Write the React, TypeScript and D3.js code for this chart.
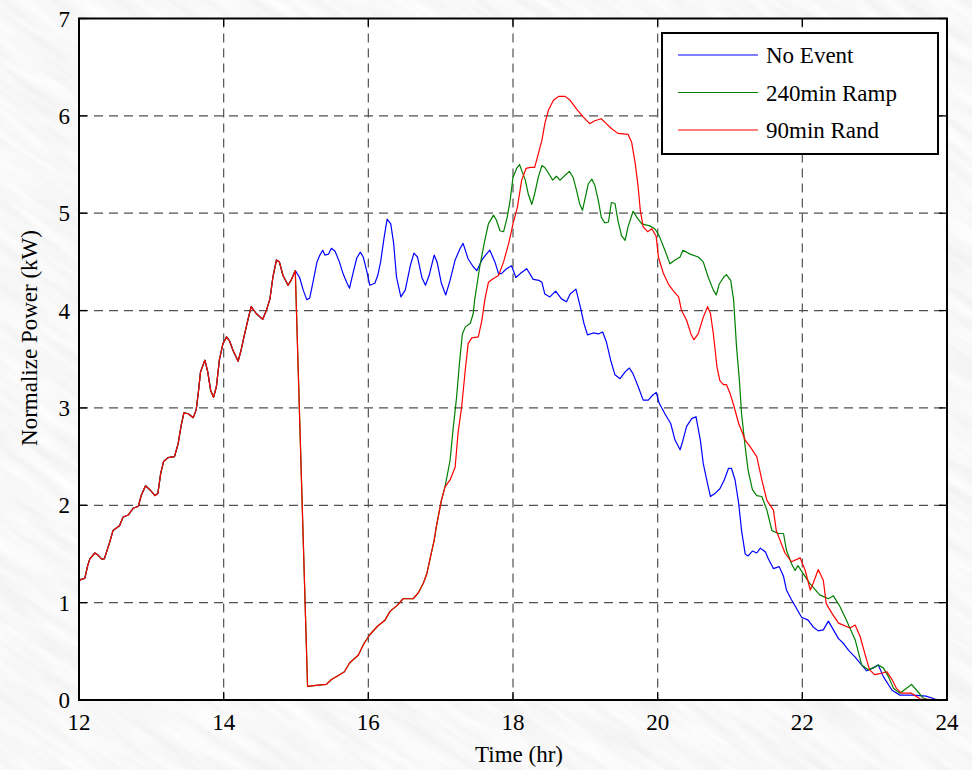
import { useEffect, useMemo, useRef } from "react";
import * as d3 from "d3";

const WIDTH = 972;
const HEIGHT = 770;
const PLOT = { left: 79, right: 947, top: 18.5, bottom: 700 };

// all three cases share the same load before the event starts (~15 hr)
const common: [number, number][] = [
  [12.0, 1.22], [12.03, 1.24], [12.08, 1.25], [12.12, 1.38], [12.15, 1.45], [12.22, 1.51], [12.26, 1.49],
  [12.31, 1.45], [12.35, 1.45], [12.42, 1.61], [12.47, 1.74], [12.56, 1.79], [12.61, 1.88], [12.68, 1.9],
  [12.75, 1.97], [12.82, 1.99], [12.86, 2.1], [12.92, 2.2], [12.98, 2.16], [13.05, 2.1], [13.09, 2.12],
  [13.13, 2.33], [13.17, 2.45], [13.23, 2.49], [13.32, 2.5], [13.37, 2.63], [13.41, 2.81], [13.45, 2.95],
  [13.51, 2.94], [13.58, 2.9], [13.62, 2.98], [13.65, 3.16], [13.68, 3.37], [13.74, 3.49], [13.78, 3.37],
  [13.82, 3.18], [13.86, 3.11], [13.9, 3.22], [13.94, 3.49], [13.99, 3.66], [14.04, 3.73], [14.08, 3.69],
  [14.13, 3.59], [14.2, 3.48], [14.24, 3.59], [14.29, 3.76], [14.34, 3.92], [14.38, 4.04], [14.45, 3.97],
  [14.54, 3.91], [14.59, 4.0], [14.64, 4.12], [14.68, 4.34], [14.73, 4.52], [14.77, 4.5], [14.82, 4.36],
  [14.89, 4.26], [14.93, 4.31], [14.99, 4.41],
];

// drop + recovery, identical for the ramp and random cases
const eventShared: [number, number][] = [
  [15.16, 0.14], [15.28, 0.15], [15.42, 0.16], [15.49, 0.21], [15.58, 0.25], [15.67, 0.29], [15.74, 0.38],
  [15.86, 0.46], [15.94, 0.58], [16.02, 0.67], [16.13, 0.76], [16.23, 0.82], [16.3, 0.91], [16.41, 0.98],
  [16.48, 1.04], [16.62, 1.04], [16.69, 1.1], [16.76, 1.2], [16.81, 1.3], [16.85, 1.44], [16.91, 1.64],
  [16.94, 1.78], [17.01, 2.05], [17.06, 2.19],
];

const noEventTail: [number, number][] = [
  [15.05, 4.34], [15.1, 4.21], [15.15, 4.11], [15.19, 4.13], [15.24, 4.31], [15.29, 4.5], [15.33, 4.57],
  [15.37, 4.62], [15.4, 4.57], [15.45, 4.58], [15.49, 4.64], [15.54, 4.61], [15.6, 4.5], [15.65, 4.38],
  [15.7, 4.29], [15.74, 4.23], [15.79, 4.39], [15.84, 4.54], [15.89, 4.6], [15.93, 4.55], [15.98, 4.4],
  [16.02, 4.26], [16.09, 4.28], [16.13, 4.36], [16.17, 4.5], [16.22, 4.76], [16.26, 4.94], [16.31, 4.89],
  [16.35, 4.69], [16.39, 4.34], [16.45, 4.14], [16.51, 4.21], [16.58, 4.46], [16.63, 4.59], [16.68, 4.55],
  [16.74, 4.34], [16.79, 4.26], [16.84, 4.36], [16.91, 4.57], [16.95, 4.5], [17.01, 4.28], [17.07, 4.16],
  [17.13, 4.31], [17.2, 4.52], [17.27, 4.64], [17.31, 4.69], [17.38, 4.53], [17.45, 4.45], [17.5, 4.41],
  [17.57, 4.52], [17.62, 4.57], [17.68, 4.62], [17.75, 4.5], [17.8, 4.38], [17.84, 4.38], [17.91, 4.43],
  [17.98, 4.46], [18.04, 4.34], [18.1, 4.38], [18.19, 4.43], [18.28, 4.32], [18.36, 4.31], [18.4, 4.29],
  [18.44, 4.17], [18.51, 4.14], [18.59, 4.2], [18.67, 4.12], [18.74, 4.09], [18.79, 4.17], [18.87, 4.22],
  [18.93, 4.04], [18.98, 3.87], [19.03, 3.75], [19.11, 3.77], [19.18, 3.76], [19.24, 3.78], [19.29, 3.68],
  [19.35, 3.49], [19.41, 3.34], [19.48, 3.3], [19.55, 3.37], [19.61, 3.41], [19.66, 3.35], [19.73, 3.22],
  [19.8, 3.08], [19.87, 3.08], [19.93, 3.13], [19.98, 3.16], [20.02, 3.05], [20.1, 2.94], [20.18, 2.84],
  [20.24, 2.67], [20.31, 2.57], [20.35, 2.67], [20.4, 2.81], [20.47, 2.89], [20.53, 2.91], [20.59, 2.67],
  [20.63, 2.43], [20.69, 2.22], [20.73, 2.09], [20.79, 2.12], [20.86, 2.17], [20.92, 2.26], [20.98, 2.38],
  [21.02, 2.38], [21.07, 2.26], [21.12, 2.02], [21.16, 1.74], [21.21, 1.5], [21.25, 1.48], [21.31, 1.53],
  [21.37, 1.51], [21.42, 1.56], [21.49, 1.52], [21.53, 1.45], [21.6, 1.35], [21.68, 1.37], [21.74, 1.27],
  [21.78, 1.13], [21.85, 1.03], [21.92, 0.94], [21.99, 0.85], [22.08, 0.82], [22.15, 0.75], [22.22, 0.71],
  [22.29, 0.72], [22.36, 0.81], [22.43, 0.72], [22.5, 0.63], [22.57, 0.58], [22.64, 0.51], [22.73, 0.44],
  [22.82, 0.36], [22.89, 0.3], [22.98, 0.33], [23.05, 0.36], [23.12, 0.24], [23.24, 0.1], [23.35, 0.05],
  [23.53, 0.05], [23.71, 0.04], [23.83, 0.01], [23.9, 0.0], [24.0, 0.0],
];

const rampTail: [number, number][] = [
  [17.13, 2.46], [17.17, 2.77], [17.22, 3.11], [17.26, 3.46], [17.3, 3.76], [17.34, 3.83], [17.41, 3.87],
  [17.45, 3.97], [17.47, 4.11], [17.54, 4.45], [17.61, 4.72], [17.66, 4.89], [17.73, 4.98], [17.77, 4.93],
  [17.82, 4.82], [17.87, 4.81], [17.92, 4.96], [17.96, 5.13], [18.0, 5.37], [18.05, 5.46], [18.09, 5.5],
  [18.12, 5.44], [18.17, 5.34], [18.21, 5.2], [18.26, 5.09], [18.3, 5.2], [18.35, 5.37], [18.4, 5.49],
  [18.44, 5.47], [18.49, 5.41], [18.55, 5.34], [18.6, 5.38], [18.65, 5.34], [18.72, 5.39], [18.78, 5.43],
  [18.83, 5.37], [18.88, 5.23], [18.92, 5.1], [18.96, 5.03], [18.99, 5.13], [19.04, 5.3], [19.09, 5.35],
  [19.13, 5.29], [19.18, 5.13], [19.22, 4.96], [19.27, 4.9], [19.32, 4.91], [19.36, 5.11], [19.41, 5.1],
  [19.45, 4.93], [19.5, 4.77], [19.55, 4.72], [19.59, 4.86], [19.66, 5.02], [19.71, 4.96], [19.78, 4.89],
  [19.89, 4.87], [19.96, 4.84], [20.02, 4.77], [20.1, 4.62], [20.17, 4.48], [20.24, 4.52], [20.31, 4.55],
  [20.35, 4.62], [20.45, 4.58], [20.56, 4.55], [20.63, 4.5], [20.7, 4.34], [20.77, 4.21], [20.81, 4.16],
  [20.85, 4.27], [20.91, 4.34], [20.95, 4.37], [21.01, 4.31], [21.05, 4.11], [21.09, 3.63], [21.13, 3.28],
  [21.16, 2.94], [21.21, 2.6], [21.25, 2.36], [21.31, 2.16], [21.37, 2.1], [21.44, 2.09], [21.51, 1.95],
  [21.58, 1.74], [21.67, 1.71], [21.74, 1.71], [21.78, 1.54], [21.85, 1.4], [21.9, 1.33], [21.94, 1.38],
  [22.01, 1.3], [22.1, 1.2], [22.24, 1.08], [22.36, 1.04], [22.43, 1.07], [22.52, 0.96], [22.61, 0.82],
  [22.73, 0.62], [22.82, 0.36], [22.91, 0.31], [22.98, 0.33], [23.05, 0.36], [23.12, 0.33], [23.19, 0.24],
  [23.26, 0.12], [23.35, 0.07], [23.44, 0.12], [23.51, 0.16], [23.58, 0.1], [23.67, 0.02], [23.75, 0.0],
  [24.0, 0.0],
];

const randTail: [number, number][] = [
  [17.13, 2.26], [17.2, 2.39], [17.24, 2.74], [17.29, 3.01], [17.34, 3.39], [17.38, 3.66], [17.43, 3.72],
  [17.52, 3.73], [17.57, 3.9], [17.61, 4.11], [17.66, 4.29], [17.73, 4.33], [17.8, 4.36], [17.87, 4.5],
  [17.94, 4.69], [18.0, 4.89], [18.06, 5.06], [18.12, 5.34], [18.18, 5.46], [18.24, 5.47], [18.3, 5.47],
  [18.35, 5.61], [18.4, 5.75], [18.44, 5.92], [18.49, 6.06], [18.56, 6.16], [18.63, 6.2], [18.72, 6.2],
  [18.79, 6.16], [18.88, 6.07], [18.97, 5.99], [19.06, 5.92], [19.13, 5.95], [19.22, 5.97], [19.29, 5.92],
  [19.36, 5.87], [19.45, 5.82], [19.59, 5.81], [19.64, 5.73], [19.69, 5.51], [19.73, 5.27], [19.76, 5.03],
  [19.8, 4.86], [19.86, 4.81], [19.92, 4.84], [19.98, 4.76], [20.01, 4.55], [20.08, 4.38], [20.15, 4.27],
  [20.22, 4.2], [20.29, 4.14], [20.33, 4.0], [20.4, 3.9], [20.46, 3.76], [20.5, 3.7], [20.56, 3.76],
  [20.63, 3.93], [20.69, 4.04], [20.73, 3.97], [20.77, 3.76], [20.82, 3.42], [20.86, 3.28], [20.91, 3.24],
  [20.95, 3.24], [21.0, 3.15], [21.05, 3.03], [21.12, 2.84], [21.21, 2.67], [21.28, 2.6], [21.37, 2.5],
  [21.44, 2.26], [21.51, 2.05], [21.6, 1.95], [21.64, 1.74], [21.76, 1.51], [21.85, 1.42], [21.97, 1.46],
  [22.04, 1.33], [22.11, 1.13], [22.15, 1.2], [22.22, 1.34], [22.29, 1.23], [22.33, 0.99], [22.41, 0.89],
  [22.5, 0.79], [22.66, 0.74], [22.73, 0.77], [22.8, 0.65], [22.87, 0.46], [22.93, 0.31], [23.0, 0.26],
  [23.07, 0.27], [23.17, 0.29], [23.24, 0.21], [23.3, 0.12], [23.37, 0.07], [23.51, 0.07], [23.63, 0.01],
  [24.0, 0.0],
];

const seriesNames = ["No Event", "240min Ramp", "90min Rand"];
const seriesColors = ["#0000ff", "#008000", "#ff0000"];

const xTicks = [12, 14, 16, 18, 20, 22, 24];
const yTicks = [0, 1, 2, 3, 4, 5, 6, 7];

const SERIF = '"Liberation Serif", Tinos, "Times New Roman", Times, serif';
const textStyle = { fontFamily: SERIF };
const FS = 23;

export default function App() {
  const svgRef = useRef<SVGSVGElement>(null);
  const x = d3.scaleLinear().domain([12, 24]).range([PLOT.left, PLOT.right]);
  const y = d3.scaleLinear().domain([0, 7]).range([PLOT.bottom, PLOT.top]);

  // force the serif face on every label, whatever the page css says
  useEffect(() => {
    if (!svgRef.current) return;
    d3.select(svgRef.current)
      .selectAll<SVGTextElement, unknown>("text")
      .attr("font-family", SERIF)
      .each(function () {
        this.style.setProperty("font-family", SERIF, "important");
      });
  }, []);

  const series = useMemo(
    () => [
      [...common, ...noEventTail],
      [...common, ...eventShared, ...rampTail],
      [...common, ...eventShared, ...randTail],
    ],
    []
  );

  const line = d3
    .line<[number, number]>()
    .x((d) => x(d[0]))
    .y((d) => y(d[1]));

  const legend = { x: 662, y: 33, w: 276, h: 121 };

  return (
    <svg ref={svgRef} width={WIDTH} height={HEIGHT} style={{ position: "absolute", left: 0, top: 0 }}>
      <defs>
        <filter id="paper" x="0" y="0" width="100%" height="100%">
          <feTurbulence type="fractalNoise" baseFrequency="0.012 0.09" numOctaves={3} seed={7} />
          <feColorMatrix
            type="matrix"
            values="0.16 0 0 0 0.86  0.16 0 0 0 0.86  0.16 0 0 0 0.86  0 0 0 0 1"
          />
        </filter>
        <clipPath id="plotClip">
          <rect x={PLOT.left} y={PLOT.top} width={PLOT.right - PLOT.left} height={PLOT.bottom - PLOT.top} />
        </clipPath>
      </defs>

      <rect width={WIDTH} height={HEIGHT} fill="#f0f0f0" />
      <g transform={`rotate(35 ${WIDTH / 2} ${HEIGHT / 2})`}>
        <rect x={-400} y={-400} width={WIDTH + 800} height={HEIGHT + 800} filter="url(#paper)" />
      </g>

      <rect
        x={PLOT.left}
        y={PLOT.top}
        width={PLOT.right - PLOT.left}
        height={PLOT.bottom - PLOT.top}
        fill="#ffffff"
      />

      {/* grid */}
      <g stroke="#333" strokeWidth={1.2} strokeDasharray="9,6" opacity={0.85}>
        {xTicks.slice(1, -1).map((t) => (
          <line key={"gx" + t} x1={x(t)} x2={x(t)} y1={PLOT.top} y2={PLOT.bottom} />
        ))}
        {yTicks.slice(1, -1).map((t) => (
          <line key={"gy" + t} x1={PLOT.left} x2={PLOT.right} y1={y(t)} y2={y(t)} />
        ))}
      </g>

      {/* inward ticks */}
      <g stroke="#000" strokeWidth={1.3}>
        {xTicks.map((t) => (
          <g key={"tx" + t}>
            <line x1={x(t)} x2={x(t)} y1={PLOT.bottom} y2={PLOT.bottom - 8} />
            <line x1={x(t)} x2={x(t)} y1={PLOT.top} y2={PLOT.top + 8} />
          </g>
        ))}
        {yTicks.map((t) => (
          <g key={"ty" + t}>
            <line x1={PLOT.left} x2={PLOT.left + 8} y1={y(t)} y2={y(t)} />
            <line x1={PLOT.right} x2={PLOT.right - 8} y1={y(t)} y2={y(t)} />
          </g>
        ))}
      </g>

      {/* data */}
      <g clipPath="url(#plotClip)" fill="none" strokeWidth={1.2} strokeLinejoin="round">
        {series.map((s, i) => (
          <path key={seriesNames[i]} d={line(s) ?? ""} stroke={seriesColors[i]} />
        ))}
      </g>

      <rect
        x={PLOT.left}
        y={PLOT.top}
        width={PLOT.right - PLOT.left}
        height={PLOT.bottom - PLOT.top}
        fill="none"
        stroke="#000"
        strokeWidth={2}
      />

      {/* tick labels */}
      {xTicks.map((t) => (
        <text key={"lx" + t} x={x(t)} y={730} textAnchor="middle" fontSize={FS} style={textStyle}>
          {t}
        </text>
      ))}
      {yTicks.map((t) => (
        <text key={"ly" + t} x={70} y={y(t) + 8} textAnchor="end" fontSize={FS} style={textStyle}>
          {t}
        </text>
      ))}

      <text x={519} y={762} fontSize={FS} textAnchor="middle" style={textStyle}>
        Time (hr)
      </text>
      <text transform="translate(37,338) rotate(-90)" fontSize={FS} textAnchor="middle" style={textStyle}>
        Normalize Power (kW)
      </text>

      {/* legend */}
      <rect x={legend.x} y={legend.y} width={legend.w} height={legend.h} fill="#fff" stroke="#000" strokeWidth={2} />
      {seriesNames.map((name, i) => {
        const ly = legend.y + 22 + i * 37.5;
        return (
          <g key={"leg" + name}>
            <line x1={678} x2={758} y1={ly} y2={ly} stroke={seriesColors[i]} strokeWidth={1.2} />
            <text x={766} y={ly + 8} fontSize={FS} style={textStyle}>
              {name}
            </text>
          </g>
        );
      })}
    </svg>
  );
}
